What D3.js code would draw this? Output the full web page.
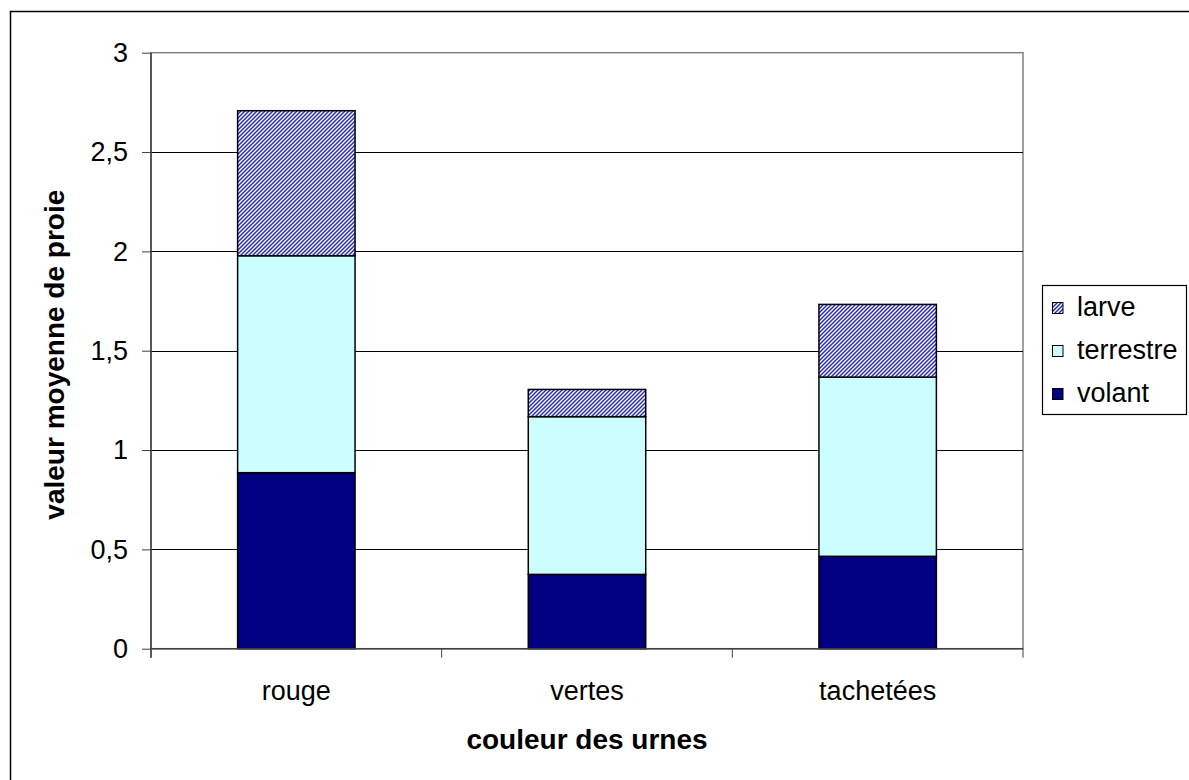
<!DOCTYPE html>
<html>
<head>
<meta charset="utf-8">
<script src="https://cdn.jsdelivr.net/npm/d3@7"></script>
<style>
  body { margin: 0; background: #fff; }
  svg text { font-family: "Liberation Sans", Arial, sans-serif; fill: #000; }
</style>
</head>
<body>
<svg id="chart" width="1189" height="780"></svg>
<script>
// data
const categories = ["rouge", "vertes", "tachetées"];
const seriesNames = ["volant", "terrestre", "larve"];
const volant = [0.886, 0.374, 0.465];
const terrestre = [1.092, 0.794, 0.902];
const larve = [0.730, 0.137, 0.366];
const yTicks = [0, 0.5, 1, 1.5, 2, 2.5, 3];

const svg = d3.select("#chart");
const m = { left: 151, right: 1023, top: 52.7, bottom: 648.7 };

// outer chart border
svg.append("rect")
  .attr("x", 10.5).attr("y", 11.5)
  .attr("width", 1190).attr("height", 790)
  .attr("fill", "#fff").attr("stroke", "#000").attr("stroke-width", 1.5);

// hatch pattern for larve
const defs = svg.append("defs");
const pat = defs.append("pattern")
  .attr("id", "hatch")
  .attr("patternUnits", "userSpaceOnUse")
  .attr("width", 4).attr("height", 4);
pat.append("rect").attr("width", 4).attr("height", 4).attr("fill", "#fff");
pat.append("path")
  .attr("d", "M-1,1 l2,-2 M0,4 l4,-4 M3,5 l2,-2")
  .attr("stroke", "#2a2ab8").attr("stroke-width", 1.5);

const x = d3.scaleBand()
  .domain(categories)
  .range([m.left, m.right])
  .paddingInner(0.596)
  .paddingOuter(0.298);

const y = d3.scaleLinear().domain([0, 3]).range([m.bottom, m.top]);

const table = categories.map((c, i) => ({
  cat: c, volant: volant[i], terrestre: terrestre[i], larve: larve[i]
}));
const stacked = d3.stack().keys(seriesNames)(table);

const fills = { volant: "#000080", terrestre: "#ccffff", larve: "url(#hatch)" };

// plot area border
svg.append("rect")
  .attr("x", m.left).attr("y", m.top)
  .attr("width", m.right - m.left).attr("height", m.bottom - m.top)
  .attr("fill", "none").attr("stroke", "#808080").attr("stroke-width", 1.5);

// gridlines
svg.append("g")
  .selectAll("line")
  .data(yTicks.filter((t) => t > 0 && t < 3))
  .join("line")
  .attr("x1", m.left).attr("x2", m.right)
  .attr("y1", (d) => Math.round(y(d)) + 0.5)
  .attr("y2", (d) => Math.round(y(d)) + 0.5)
  .attr("stroke", "#000").attr("stroke-width", 1);

// bars
stacked.forEach((layer) => {
  svg.append("g")
    .selectAll("rect")
    .data(layer)
    .join("rect")
    .attr("x", (d) => x(d.data.cat))
    .attr("width", x.bandwidth())
    .attr("y", (d) => y(d[1]))
    .attr("height", (d) => y(d[0]) - y(d[1]))
    .attr("fill", fills[layer.key])
    .attr("stroke", "#000")
    .attr("stroke-width", 1.5);
});

// y axis
const yAxis = d3.axisLeft(y)
  .tickValues(yTicks)
  .tickSize(9)
  .tickPadding(14)
  .tickFormat((d) => String(d).replace(".", ","));
const gy = svg.append("g").attr("transform", `translate(${m.left},0)`).call(yAxis);
gy.select(".domain").attr("stroke", "#404040").attr("stroke-width", 1.5)
  .attr("d", `M0,${m.top}V${m.bottom + 9}`);
gy.selectAll(".tick line").attr("stroke", "#404040");
gy.selectAll(".tick text").attr("font-size", 27);

// x axis
const gx = svg.append("g").attr("transform", `translate(0,${m.bottom})`);
gx.append("line")
  .attr("x1", m.left).attr("x2", m.right)
  .attr("stroke", "#404040").attr("stroke-width", 1.5);
const bounds = categories.map((c) => x(c) - x.step() * x.paddingInner() / 2)
  .concat([m.right]);
bounds[0] = m.left;
gx.selectAll("line.tk")
  .data(bounds)
  .join("line")
  .attr("class", "tk")
  .attr("x1", (d) => d).attr("x2", (d) => d)
  .attr("y1", 0).attr("y2", 9)
  .attr("stroke", "#404040");
gx.selectAll("text")
  .data(categories)
  .join("text")
  .attr("x", (d) => x(d) + x.bandwidth() / 2)
  .attr("y", 51)
  .attr("text-anchor", "middle")
  .attr("font-size", 27)
  .text((d) => d);

// axis titles
svg.append("text")
  .attr("x", (m.left + m.right) / 2)
  .attr("y", 749)
  .attr("text-anchor", "middle")
  .attr("font-size", 28)
  .attr("font-weight", "bold")
  .text("couleur des urnes");

svg.append("text")
  .attr("transform", `translate(64,${(m.top + m.bottom) / 2 + 4}) rotate(-90)`)
  .attr("text-anchor", "middle")
  .attr("font-size", 28)
  .attr("font-weight", "bold")
  .text("valeur moyenne de proie");

// legend
const lg = svg.append("g");
lg.append("rect")
  .attr("x", 1042.5).attr("y", 285.5)
  .attr("width", 144).attr("height", 129)
  .attr("fill", "#fff").attr("stroke", "#000").attr("stroke-width", 1.2);
const legendOrder = ["larve", "terrestre", "volant"];
const ly = d3.scalePoint().domain(legendOrder).range([308, 394]);
legendOrder.forEach((k) => {
  lg.append("rect")
    .attr("x", 1052.5).attr("y", ly(k) - 5.5)
    .attr("width", 10.5).attr("height", 11)
    .attr("fill", fills[k]).attr("stroke", "#000").attr("stroke-width", 1);
  lg.append("text")
    .attr("x", 1077).attr("y", ly(k) + 8)
    .attr("font-size", 27)
    .text(k);
});
</script>
</body>
</html>
